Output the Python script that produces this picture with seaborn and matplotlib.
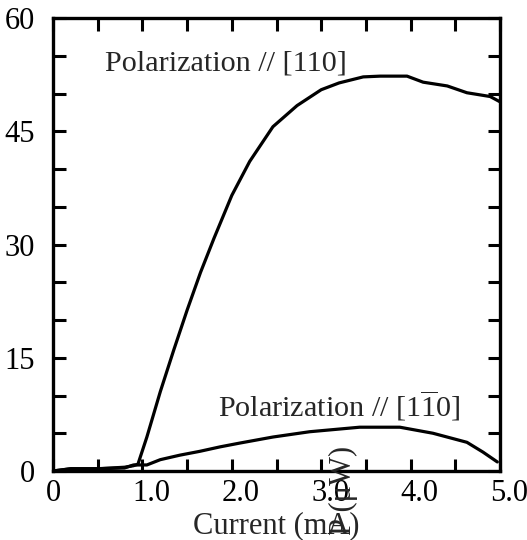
import numpy as np
import pandas as pd
import matplotlib
matplotlib.use("Agg")
import matplotlib.pyplot as plt
import matplotlib.transforms as mtrans
import seaborn as sns

# Data
current_110 = [0.0, 0.2, 0.5, 0.8, 0.9, 0.95, 1.05, 1.2, 1.35, 1.5, 1.65, 1.8, 2.0, 2.2,
               2.46, 2.73, 3.0, 3.2, 3.47, 3.66, 3.96, 4.14, 4.41, 4.63, 4.89, 5.0]
power_110 = [0.0, 0.3, 0.3, 0.5, 0.7, 0.9, 4.5, 10.5, 16.0, 21.3, 26.3, 30.8, 36.5, 41.0,
             45.6, 48.4, 50.5, 51.4, 52.2, 52.3, 52.3, 51.5, 51.0, 50.1, 49.6, 48.9]
current_1m10 = [0.0, 0.2, 0.5, 0.8, 0.9, 1.05, 1.2, 1.42, 1.64, 1.87, 2.09, 2.46, 2.87,
                3.43, 3.88, 4.25, 4.63, 4.81, 4.97]
power_1m10 = [0.0, 0.3, 0.3, 0.4, 0.8, 0.8, 1.5, 2.1, 2.6, 3.2, 3.7, 4.5, 5.2,
              5.8, 5.8, 5.0, 3.8, 2.5, 1.2]
xtick_vals = [0, 1, 2, 3, 4, 5]
xtick_labels = ["0", "1.0", "2.0", "3.0", "4.0", "5.0"]
ytick_vals = [0, 15, 30, 45, 60]
ytick_labels = ["0", "15", "30", "45", "60"]

sns.set_theme(style="ticks")
plt.rcParams["font.family"] = ["Liberation Serif", "DejaVu Serif"]
plt.rcParams["mathtext.fontset"] = "custom"
plt.rcParams["mathtext.rm"] = "Liberation Serif"
plt.rcParams["mathtext.it"] = "Liberation Serif:italic"

df = pd.concat([
    pd.DataFrame({"x": current_110, "y": power_110, "s": "110"}),
    pd.DataFrame({"x": current_1m10, "y": power_1m10, "s": "1-10"}),
])

fig = plt.figure(figsize=(5.27, 5.4), dpi=100)
ax = fig.add_axes([53/527, 1-471/540, (500-53)/527, (471-18)/540])
sns.lineplot(data=df, x="x", y="y", units="s", estimator=None, color="black",
             linewidth=2.3, ax=ax, sort=False)

ax.set_xlim(0, 5)
ax.set_ylim(0, 60)
ax.set_xticks(xtick_vals)
ax.set_xticklabels(xtick_labels)
ax.set_yticks(ytick_vals)
ax.set_yticklabels(ytick_labels)
ax.set_xticks(np.arange(0, 5.01, 0.5), minor=True)
ax.set_yticks(np.arange(0, 60.1, 5), minor=True)
for which in ("major", "minor"):
    ax.tick_params(axis="both", which=which, direction="in", length=9, width=2.2,
                   top=True, right=True, labelsize=22, colors="black")
ax.tick_params(axis="x", which="major", pad=6)
ax.tick_params(axis="y", which="major", pad=13)
for sp in ax.spines.values():
    sp.set_linewidth(2.4)
    sp.set_color("black")

# decimal labels sit with their integer digit on the tick
shift = mtrans.ScaledTranslation(9/100, 0, fig.dpi_scale_trans)
for lbl in ax.get_xticklabels()[1:]:
    lbl.set_transform(lbl.get_transform() + shift)

ax.set_xlabel("Current (mA)", fontsize=22, labelpad=2)
ax.set_ylabel("")
ax.text(3.25, -2.6, "P (μW)", rotation=90, fontsize=22, ha="center", va="center",
        clip_on=False)

ax.text(0.58, 54.0, "Polarization // [110]", fontsize=21.7, va="center", ha="left")
ax.text(1.85, 8.7, r"Polarization // [1$\overline{\mathrm{1}}$0]", fontsize=21.7,
        va="center", ha="left")

fig.savefig("out.png", dpi=100)
